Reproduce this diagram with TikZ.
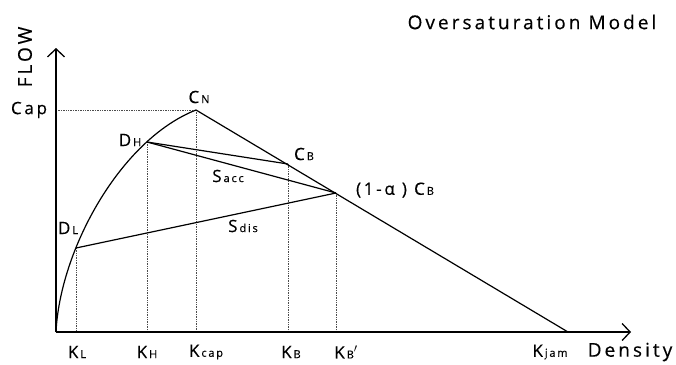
\documentclass[tikz,border=0pt]{standalone}
\usepackage{fontspec}
\setmainfont[LetterSpace=16, FakeBold=0.4]{Open Sans}
\usepackage{tikz}
\usetikzlibrary{arrows.meta, positioning}
\newcommand{\idx}[1]{\hspace{2pt}{\fontsize{11}{11}\selectfont #1}}
\tikzset{
  axis/.style={line width=1.8pt, -{Straight Barb[length=8pt, width=17pt, line width=1.3pt]}},
  curve/.style={line width=1.2pt, color=black},
  guide/.style={densely dotted, line width=0.7pt, color=black!70},
  lbl/.style={font=\fontsize{17}{17}\selectfont, inner sep=0pt},
  axlbl/.style={font=\fontsize{19}{19}\selectfont, inner sep=0pt}
}

\begin{document}
\begin{tikzpicture}[x=1pt, y=-1pt]
  \useasboundingbox (0,0) rectangle (676,364);

  % Points on the diagram
  \coordinate (O) at (56,332);
  \coordinate (DL) at (76,248);
  \coordinate (DH) at (147,142);
  \coordinate (CN) at (196,110);
  \coordinate (CB) at (288,164);
  \coordinate (CBa) at (336,193);
  \coordinate (Kjam) at (568,332);
  \coordinate (ytip) at (56,48);
  \coordinate (xtip) at (631,332);

  % Guides
  \draw[guide] (CN) -- (CN -| O);
  \foreach \p in {DL, DH, CN, CB, CBa}
    \draw[guide] (\p) -- (\p |- O);

  % Axes
  \draw[axis] (O) -- (ytip);
  \draw[axis] (O) -- (xtip);

  % Flow curve
  \draw[curve] (O) .. controls (60,250) and (120,140) .. (CN);
  \draw[curve] (CN) -- (Kjam);
  \draw[curve] (DH) -- (CB);
  \draw[curve] (DH) -- (CBa);
  \draw[curve] (DL) -- (CBa);

  % Labels
  \node[axlbl, rotate=90] (flow) at (25,57) {FLOW};
  \node[lbl] (cap) at (29,110) {Cap};
  \node[lbl] (cn) at (199,97) {C\idx{N}};
  \node[lbl] (dh) at (130,140) {D\idx{H}};
  \node[lbl] (cb) at (304,154) {C\idx{B}};
  \node[lbl] (sacc) at (228,176) {S\idx{acc}};
  \node[lbl] (cba) at (395,190) {(1-α ) C\idx{B}};
  \node[lbl] (dl) at (68,228) {D\idx{L}};
  \node[lbl] (sdis) at (243,226) {S\idx{dis}};

  % Density axis labels
  \node[lbl] (kl) at (77,352) {K\idx{L}};
  \node[lbl] (kh) at (147,352) {K\idx{H}};
  \node[lbl] (kcap) at (206,352) {K\idx{cap}};
  \node[lbl] (kb) at (291,352) {K\idx{B}};
  \node[lbl] (kbb) at (346,352) {K\idx{B}$'$};
  \node[lbl] (kjam) at (550,352) {K\idx{jam}};
  \node[axlbl] (dens) at (630,352) {Density};

  % Title
  \node[axlbl] (title) at (532,22) {Oversaturation Model};
\end{tikzpicture}
\end{document}
